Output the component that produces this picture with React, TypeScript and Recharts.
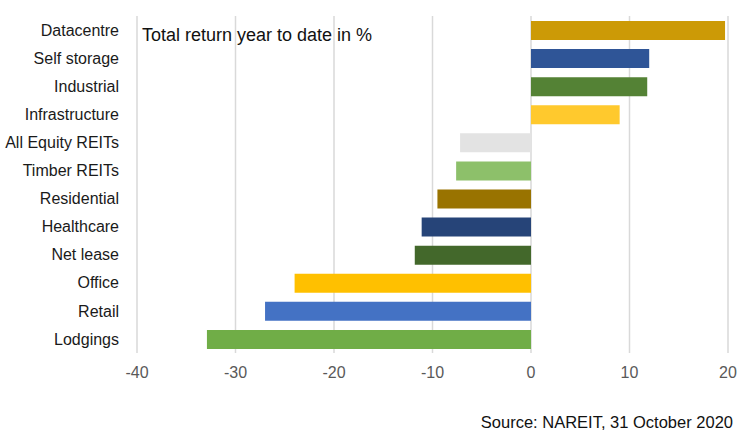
import React from "react";
import { BarChart, Bar, XAxis, YAxis, CartesianGrid, Cell } from "recharts";

const sectors = [
  "Datacentre",
  "Self storage",
  "Industrial",
  "Infrastructure",
  "All Equity REITs",
  "Timber REITs",
  "Residential",
  "Healthcare",
  "Net lease",
  "Office",
  "Retail",
  "Lodgings",
];

const returnsYtd = [19.7, 12.0, 11.8, 9.0, -7.2, -7.6, -9.5, -11.1, -11.8, -24.0, -27.0, -32.9];

const barColors = [
  "#CC9A06",
  "#2F5597",
  "#548235",
  "#FFC92D",
  "#E3E3E3",
  "#8DC06A",
  "#997300",
  "#264478",
  "#43682B",
  "#FFC000",
  "#4472C4",
  "#70AD47",
];

const xTicks = [-40, -30, -20, -10, 0, 10, 20];

const data = sectors.map((name, i) => ({ name, value: returnsYtd[i] }));

const font = "'Liberation Sans', Arial, sans-serif";

export default function App() {
  return (
    <div
      style={{
        position: "fixed",
        left: 0,
        top: 0,
        width: 745,
        height: 438,
        background: "#fff",
        fontFamily: font,
      }}
    >
      <BarChart
        width={745}
        height={438}
        data={data}
        layout="vertical"
        margin={{ top: 16, right: 17, bottom: 55, left: 0 }}
      >
        <CartesianGrid horizontal={false} stroke="#D9D9D9" strokeWidth={1.5} />
        <XAxis
          type="number"
          domain={[-40, 20]}
          ticks={xTicks}
          axisLine={false}
          tickLine={false}
          tickSize={0}
          tickMargin={14}
          height={30}
          tick={{ fill: "#595959", fontSize: 16, fontFamily: font }}
        />
        <YAxis
          type="category"
          dataKey="name"
          width={137}
          axisLine={false}
          tickLine={false}
          tickSize={0}
          tickMargin={18}
          interval={0}
          tick={{ fill: "#1a1a1a", fontSize: 16, fontFamily: font }}
        />
        <Bar dataKey="value" barSize={19} isAnimationActive={false}>
          {data.map((d, i) => (
            <Cell key={d.name} fill={barColors[i]} />
          ))}
        </Bar>
      </BarChart>
      <div
        style={{
          position: "absolute",
          left: 142,
          top: 25,
          fontSize: 18,
          color: "#111",
          whiteSpace: "nowrap",
        }}
      >
        Total return year to date in %
      </div>
      <div
        style={{
          position: "absolute",
          right: 12,
          top: 413,
          fontSize: 16.5,
          color: "#111",
          whiteSpace: "nowrap",
        }}
      >
        Source: NAREIT, 31 October 2020
      </div>
    </div>
  );
}
